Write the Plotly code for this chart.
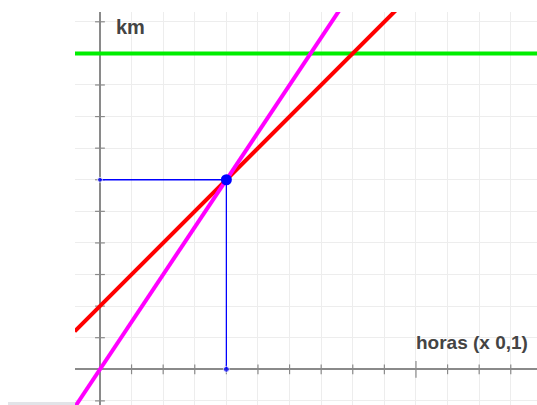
import plotly.graph_objects as go

# Distance-time graph (km vs hours x 0.1)
magenta_x = [-0.8, 7.6]
magenta_y = [-1.2, 11.4]
red_x = [-0.8, 9.4]
red_y = [1.2, 11.4]
green_x = [-0.8, 14.0]
green_y = [10.0, 10.0]

meet_x = [4]
meet_y = [6]
guide_h_x = [0, 4]
guide_h_y = [6, 6]
guide_v_x = [4, 4]
guide_v_y = [0, 6]

x_ticks = list(range(-0, 14))
y_ticks = list(range(-1, 12))
major = 10

W, H = 537, 405
X_RANGE = [-0.79, 13.83]
Y_RANGE = [-1.13, 11.31]
AXIS_GREY = "#8a8a8a"

fig = go.Figure()

# axis tick marks along the zero lines
minor_x = [v for v in x_ticks if v != 0 and v != major]
minor_y = [v for v in y_ticks if v != 0 and v != major]


def tick_trace(xs, ys, symbol, size):
    return go.Scatter(x=xs, y=ys, mode="markers", hoverinfo="skip",
                      marker=dict(symbol=symbol, size=size, color=AXIS_GREY,
                                  line=dict(color=AXIS_GREY, width=1.2)))


fig.add_trace(tick_trace(minor_x, [0] * len(minor_x), "line-ns-open", 7))
fig.add_trace(tick_trace([major], [0], "line-ns-open", 12))
fig.add_trace(tick_trace([0] * len(minor_y), minor_y, "line-ew-open", 7))
fig.add_trace(tick_trace([0], [major], "line-ew-open", 12))

# guide lines to the meeting point
fig.add_trace(go.Scatter(x=guide_h_x, y=guide_h_y, mode="lines+markers",
                         line=dict(color="#0000ff", width=1.3),
                         marker=dict(size=[5, 0], color="#0000ff")))
fig.add_trace(go.Scatter(x=guide_v_x, y=guide_v_y, mode="lines+markers",
                         line=dict(color="#0000ff", width=1.3),
                         marker=dict(size=[6, 0], color="#0000ff")))

fig.add_trace(go.Scatter(x=green_x, y=green_y, mode="lines",
                         line=dict(color="#00ee00", width=4)))
fig.add_trace(go.Scatter(x=red_x, y=red_y, mode="lines",
                         line=dict(color="#ff0000", width=4)))
fig.add_trace(go.Scatter(x=magenta_x, y=magenta_y, mode="lines",
                         line=dict(color="#ff00ff", width=4)))

fig.add_trace(go.Scatter(x=meet_x, y=meet_y, mode="markers",
                         marker=dict(size=11, color="#0000ff")))

axis_common = dict(showgrid=True, gridcolor="#ededed", gridwidth=1,
                   dtick=1, tick0=0, showticklabels=False, ticks="",
                   zeroline=True, zerolinecolor=AXIS_GREY, zerolinewidth=2,
                   showline=False, fixedrange=True)

fig.update_layout(
    width=W, height=H,
    margin=dict(l=0, r=0, t=0, b=0),
    paper_bgcolor="white", plot_bgcolor="white",
    showlegend=False,
    xaxis=dict(range=X_RANGE, domain=[75 / W, 1], **axis_common),
    yaxis=dict(range=Y_RANGE, domain=[0, (H - 12) / H], **axis_common),
    annotations=[
        dict(x=0.44, y=10.83, xref="x", yref="y", text="<b>km</b>",
             showarrow=False, xanchor="left", yanchor="middle",
             font=dict(family="Liberation Sans, Arial", size=20, color="#444444")),
        dict(x=9.95, y=0.84, xref="x", yref="y", text="<b>horas (x 0,1)</b>",
             showarrow=False, xanchor="left", yanchor="middle",
             font=dict(family="Liberation Sans, Arial", size=19, color="#444444")),
    ],
    shapes=[
        dict(type="rect", xref="paper", yref="paper",
             x0=8 / W, x1=76 / W, y0=0, y1=3 / H,
             fillcolor="#e2e4e8", line=dict(width=0), layer="below"),
    ],
)

fig.write_html("out.html")
